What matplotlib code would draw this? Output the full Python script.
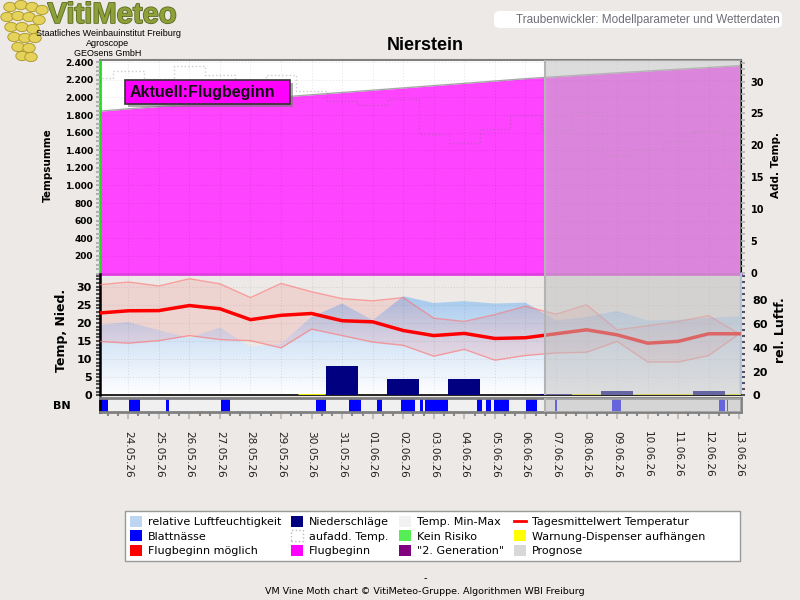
import numpy as np
import matplotlib
matplotlib.use('Agg')
import matplotlib.pyplot as plt
from matplotlib.patches import Patch, Rectangle, FancyBboxPatch, Circle
from matplotlib.lines import Line2D
from matplotlib.ticker import MultipleLocator, FuncFormatter
from matplotlib.colors import LinearSegmentedColormap
import matplotlib.patheffects as pe

# ---------------- data ----------------
dates = ['23.05.26', '24.05.26', '25.05.26', '26.05.26', '27.05.26', '28.05.26',
         '29.05.26', '30.05.26', '31.05.26', '01.06.26', '02.06.26', '03.06.26',
         '04.06.26', '05.06.26', '06.06.26', '07.06.26', '08.06.26', '09.06.26',
         '10.06.26', '11.06.26', '12.06.26', '13.06.26']
temp_sum = [1842, 1870, 1897, 1924, 1951, 1978, 2004, 2030, 2056, 2082, 2108,
            2134, 2160, 2186, 2213, 2236, 2258, 2279, 2300, 2320, 2340, 2362]
add_temp = [30.5, 31.6, 30.4, 32.4, 31.0, 27.2, 31.1, 28.6, 26.9, 26.3, 27.2,
            21.8, 20.4, 22.5, 24.8, 22.4, 25.2, 18.3, 19.4, 20.6, 22.2, 17.2]
temp_mean = [22.7, 23.35, 23.4, 24.8, 23.9, 20.9, 22.1, 22.6, 20.6, 20.3, 17.9,
             16.5, 17.1, 15.7, 15.9, 17.0, 18.1, 16.7, 14.4, 14.9, 17.0, 17.0]
temp_max = [30.5, 31.3, 30.2, 32.2, 30.8, 27.0, 30.9, 28.6, 26.7, 26.1, 27.0,
            21.3, 20.4, 22.3, 24.6, 22.4, 25.0, 18.1, 19.2, 20.4, 22.0, 17.0]
temp_min = [14.9, 14.4, 15.1, 16.5, 15.4, 15.1, 13.1, 18.3, 16.5, 14.7, 13.8,
            10.8, 12.7, 9.7, 11.0, 11.7, 11.9, 14.9, 9.2, 9.2, 11.0, 17.0]
humidity = [59, 61.7, 54.7, 48.3, 57, 40.7, 43.5, 66, 77.2, 63.2, 83.4,
            77.7, 79.2, 77.2, 78, 63, 66, 71, 63, 63.5, 65, 66.5]
precip = [0, 0, 0, 0, 0, 0, 0, 0, 8.0, 0, 4.45, 0, 4.45, 0, 0, 0.35, 0,
          1.2, 0, 0, 1.2, 0]
# leaf wetness periods (day index, fractional)
bn_start = [0.07, 1.02, 2.24, 4.05, 7.14, 8.21, 9.14, 9.93, 10.56, 10.70, 12.42,
            12.71, 12.96, 14.02, 14.96, 16.83, 20.33, 20.61]
bn_end = [0.32, 1.38, 2.33, 4.32, 7.46, 8.61, 9.30, 10.37, 10.66, 11.46, 12.57,
          12.86, 13.45, 14.38, 15.02, 17.12, 20.54, 20.64]
warn_start = [6.55, 14.7]
warn_end = [7.45, 21.1]
prognose_from = ('06.06.26', 15)  # date, hour

BG = '#ECE9E6'
x = np.arange(len(dates))
x0, x1 = 0.074, 21.056
p0 = dates.index(prognose_from[0]) + prognose_from[1] / 24.0

fig = plt.figure(figsize=(8, 6), dpi=100, facecolor=BG)
W, H = 800.0, 600.0


def rect(l, t, r, b):
    return [l / W, 1 - b / H, (r - l) / W, (b - t) / H]


OV_COL, OV_A = '#bfbfbf', 0.535
grid_kw = dict(color='#000000', alpha=0.09, ls=':', lw=0.8)

# ---------------- top panel ----------------
ax1 = fig.add_axes(rect(100, 60, 741, 273.5))
ax1.set_facecolor('white')
ax1.fill_between(x, 0, temp_sum, color='#ff44ff', lw=0, zorder=1)
ax1.plot(x, temp_sum, color='#a8a8a8', lw=1.0, zorder=2)
ax1.set_xlim(x0, x1)
ax1.set_ylim(0, 2425)
ax1.set_yticks(np.arange(200, 2401, 200))
ax1.yaxis.set_major_formatter(FuncFormatter(lambda v, p: f'{v:,.0f}'.replace(',', '.')))
ax1.yaxis.set_minor_locator(MultipleLocator(50))
ax1.set_xticks(x[1:])
ax1.tick_params(axis='x', length=0, labelbottom=False)
ax1.tick_params(axis='y', which='both', length=3, width=1.5, color='#b0b0b0',
                labelsize=6.5, pad=2)
for t in ax1.get_yticklabels():
    t.set_fontweight('bold')
ax1.set_axisbelow(False)
ax1.grid(True, **grid_kw)
ax1.spines['left'].set_color('#22dd22')
ax1.spines['left'].set_linewidth(2)
ax1.spines['top'].set_color('#808080')
ax1.spines['top'].set_linewidth(1.5)
ax1.spines['bottom'].set_color('#e040e0')
ax1.spines['bottom'].set_linewidth(2)
ax1.spines['right'].set_color('black')
ax1.spines['right'].set_linewidth(1.5)

ax1b = ax1.twinx()
ax1b.step(x, add_temp, where='mid', color='#707070', ls=':', lw=1.0, alpha=0.35, zorder=3)
ax1b.set_ylim(-0.15, 33.4)
ax1b.set_yticks(np.arange(0, 31, 5))
ax1b.yaxis.set_minor_locator(MultipleLocator(1))
ax1b.tick_params(axis='y', which='both', length=3, width=1.2, color='#b0b0b0',
                 labelsize=7, pad=4)
for t in ax1b.get_yticklabels():
    t.set_fontweight('bold')
ax1b.set_xlim(x0, x1)
for s in ax1b.spines.values():
    s.set_visible(False)
ax1b.axvspan(p0, x1 + 1, color=OV_COL, alpha=OV_A, lw=0, zorder=5)
ax1b.axvline(p0, color='#b4b4b4', lw=1.5, zorder=6)

# annotation box
fig.patches.append(Rectangle((128 / W, 1 - 107 / H), 165 / W, 24 / H, transform=fig.transFigure,
                             facecolor='#777777', edgecolor='none', alpha=0.6, zorder=8))
fig.patches.append(Rectangle((125 / W, 1 - 104 / H), 165 / W, 24 / H, transform=fig.transFigure,
                             facecolor='#ff00ff', edgecolor='#333333', lw=1.2, zorder=9))
fig.text(130 / W, 1 - 92 / H, 'Aktuell:Flugbeginn', fontsize=11.5, fontweight='bold',
         family='Liberation Sans', va='center', ha='left', color='#111111', zorder=10)

# ---------------- middle panel ----------------
mid = rect(100, 273.5, 741, 395.3)
ax2 = fig.add_axes(mid)
ax2h = ax2.twinx()
ax2.set_zorder(ax2h.get_zorder() + 1)
ax2.patch.set_visible(False)
ax2h.set_facecolor('white')

HUM_TOP = 102.5
poly = ax2h.fill_between(x, 0, humidity, color='none', lw=0)
grad = np.linspace(0, 1, 256).reshape(-1, 1)
cmap = LinearSegmentedColormap.from_list('h', ['#ffffff', '#cfe1f5', '#8bbbe9'])
im = ax2h.imshow(grad, extent=[x0, x1, 0, HUM_TOP], origin='lower', aspect='auto',
                 cmap=cmap, zorder=1)
im.set_clip_path(poly.get_paths()[0], transform=ax2h.transData)
ax2h.set_xlim(x0, x1)
ax2h.set_ylim(0, HUM_TOP)
ax2h.set_yticks(np.arange(0, 81, 20))
ax2h.yaxis.set_minor_locator(MultipleLocator(5))
ax2h.tick_params(axis='y', which='both', length=3, width=1.5, color='#505060',
                 labelsize=8, pad=5)
for t in ax2h.get_yticklabels():
    t.set_fontweight('bold')
for s in ['top', 'left', 'bottom']:
    ax2h.spines[s].set_visible(False)
ax2h.spines['right'].set_color('#a8c8ee')
ax2h.spines['right'].set_linewidth(1.5)

ax2.fill_between(x, temp_min, temp_max, color='#ff2020', alpha=0.10, lw=0, zorder=2)
ax2.plot(x, temp_max, color='#ff7070', lw=1.0, alpha=0.6, zorder=3)
ax2.plot(x, temp_min, color='#ff7070', lw=1.0, alpha=0.6, zorder=3)
ax2.plot(x, temp_mean, color='#ff0000', lw=2.5, zorder=4)
ax2.hlines([0] * len(warn_start), warn_start, warn_end, color='#ffff00', lw=2, zorder=5)
ax2.bar(x, precip, width=1.05, color='#000080', lw=0, zorder=6)
ax2.set_xlim(x0, x1)
ax2.set_ylim(0, 33.65)
ax2.set_yticks(np.arange(0, 31, 5))
ax2.yaxis.set_minor_locator(MultipleLocator(1))
ax2.set_xticks(x[1:])
ax2.tick_params(axis='x', length=0, labelbottom=False)
ax2.tick_params(axis='y', which='both', length=3, width=1.5, color='#505050',
                labelsize=8, pad=3)
for t in ax2.get_yticklabels():
    t.set_fontweight('bold')
ax2.grid(True, **grid_kw)
ax2.spines['left'].set_color('black')
ax2.spines['left'].set_linewidth(1.8)
ax2.spines['bottom'].set_color('black')
ax2.spines['bottom'].set_linewidth(1.2)
for s in ['top', 'right']:
    ax2.spines[s].set_visible(False)
ax2.axvspan(p0, x1 + 1, color=OV_COL, alpha=OV_A, lw=0, zorder=10)
ax2.axvline(p0, color='#b4b4b4', lw=1.5, zorder=11)

# ---------------- BN strip ----------------
ax3 = fig.add_axes(rect(100, 397.5, 741, 412))
ax3.set_facecolor('#f0f0f0')
ax3.broken_barh([(s, e - s) for s, e in zip(bn_start, bn_end)], (0, 1),
                facecolors='#0000ff', lw=0, zorder=2)
ax3.axvspan(p0, x1 + 1, color=OV_COL, alpha=OV_A, lw=0, zorder=5)
ax3.axvline(p0, color='#b4b4b4', lw=1.5, zorder=6)
ax3.set_xlim(x0, x1)
ax3.set_ylim(0, 1)
ax3.set_yticks([])
ax3.set_xticks(x[1:])
ax3.set_xticklabels(dates[1:], rotation=270, fontsize=7.6, color='#222222')
ax3.xaxis.set_minor_locator(MultipleLocator(1 / 3))
ax3.tick_params(axis='x', which='major', length=5, width=1.5, color='#c0c0c0', pad=9)
ax3.tick_params(axis='x', which='minor', length=3, width=1.5, color='#888888')
for s in ax3.spines.values():
    s.set_color('#808080')
    s.set_linewidth(2)
ax3.spines['left'].set_color('black')

# ---------------- axis titles ----------------
fig.text(48 / W, 1 - 165 / H, 'Tempsumme', rotation=90, fontsize=7.5, fontweight='bold',
         ha='center', va='center')
fig.text(776 / W, 1 - 165 / H, 'Add. Temp.', rotation=90, fontsize=7.5, fontweight='bold',
         ha='center', va='center')
fig.text(62 / W, 1 - 330 / H, 'Temp, Nied.', rotation=90, fontsize=9, fontweight='bold',
         ha='center', va='center')
fig.text(781 / W, 1 - 330 / H, 'rel. Luftf.', rotation=90, fontsize=9, fontweight='bold',
         ha='center', va='center')
fig.text(62 / W, 1 - 406 / H, 'BN', fontsize=8, fontweight='bold', ha='center', va='center')

# ---------------- title / header ----------------
fig.text(425 / W, 1 - 45 / H, 'Nierstein', fontsize=13, fontweight='bold',
         family='Liberation Sans', ha='center', va='center')

fig.patches.append(FancyBboxPatch((494 / W, 1 - 28 / H), 288 / W, 17 / H,
                                  boxstyle='round,pad=0,rounding_size=0.008',
                                  transform=fig.transFigure, facecolor='white',
                                  edgecolor='none', zorder=1))
fig.text(780 / W, 1 - 19.5 / H, 'Traubenwickler: Modellparameter und Wetterdaten',
         fontsize=8.5, family='Liberation Sans', color='#6e6e78', ha='right', va='center')

# logo grapes (decorative)
grape_pos = [(10, 7), (21, 5), (32, 7), (42, 10), (7, 17), (18, 16), (29, 17), (39, 20),
             (11, 27), (22, 27), (33, 29), (14, 37), (25, 38), (35, 38), (18, 47),
             (29, 48), (22, 56), (31, 57)]
for gx, gy in grape_pos:
    fig.patches.append(Circle((gx / W, 1 - gy / H), 6.2 / W, transform=fig.transFigure,
                              facecolor='#e4d25a', edgecolor='#a89524', lw=0.6, zorder=2))
fig.text(112 / W, 1 - 15 / H, 'VitiMeteo', fontsize=21, fontweight='bold',
         family='Liberation Sans', color='#8da03a', ha='center', va='center',
         path_effects=[pe.withStroke(linewidth=1.2, foreground='#5a6a1e')])
fig.text(108 / W, 1 - 33 / H, 'Staatliches Weinbauinstitut Freiburg', fontsize=6.5,
         family='Liberation Sans', ha='center', va='center')
fig.text(108 / W, 1 - 44 / H, 'Agroscope', fontsize=6.5, family='Liberation Sans',
         ha='center', va='center')
fig.text(108 / W, 1 - 53 / H, 'GEOsens GmbH', fontsize=6.5, family='Liberation Sans',
         ha='center', va='center')

# ---------------- legend ----------------
fig.patches.append(Rectangle((125 / W, 1 - 561 / H), 615 / W, 50 / H, transform=fig.transFigure,
                             facecolor='white', edgecolor='#999999', lw=1, zorder=1))
handles = [
    Patch(facecolor='#bcd6f2', edgecolor='none'),
    Patch(facecolor='#0000ff', edgecolor='none'),
    Patch(facecolor='#ff0000', edgecolor='none'),
    Patch(facecolor='#000080', edgecolor='none'),
    Patch(facecolor='white', edgecolor='#bbbbbb', ls=':'),
    Patch(facecolor='#ff00ff', edgecolor='none'),
    Patch(facecolor='#f2f2f2', edgecolor='none'),
    Patch(facecolor='#55ee55', edgecolor='none'),
    Patch(facecolor='#800080', edgecolor='none'),
    Line2D([], [], color='#ff0000', lw=2),
    Patch(facecolor='#ffff00', edgecolor='none'),
    Patch(facecolor='#d8d8d8', edgecolor='none'),
]
labels = ['relative Luftfeuchtigkeit', 'Blattnässe', 'Flugbeginn möglich',
          'Niederschläge', 'aufadd. Temp.', 'Flugbeginn',
          'Temp. Min-Max', 'Kein Risiko', '"2. Generation"',
          'Tagesmittelwert Temperatur', 'Warnung-Dispenser aufhängen', 'Prognose']
leg = fig.legend(handles, labels, ncol=4, loc='center left',
                 bbox_to_anchor=(121 / W, 1 - 536 / H), frameon=False, fontsize=8,
                 handlelength=1.1, handleheight=1.1, handletextpad=0.5,
                 columnspacing=0.9, borderpad=0.3, labelspacing=0.3)
leg.set_zorder(3)

# ---------------- footer ----------------
fig.text(425 / W, 1 - 578 / H, '-', fontsize=7, ha='center', va='center')
fig.text(425 / W, 1 - 591 / H, 'VM Vine Moth chart © VitiMeteo-Gruppe. Algorithmen WBI Freiburg',
         fontsize=6.8, ha='center', va='center')

fig.savefig('out.png', dpi=100, facecolor=BG)
